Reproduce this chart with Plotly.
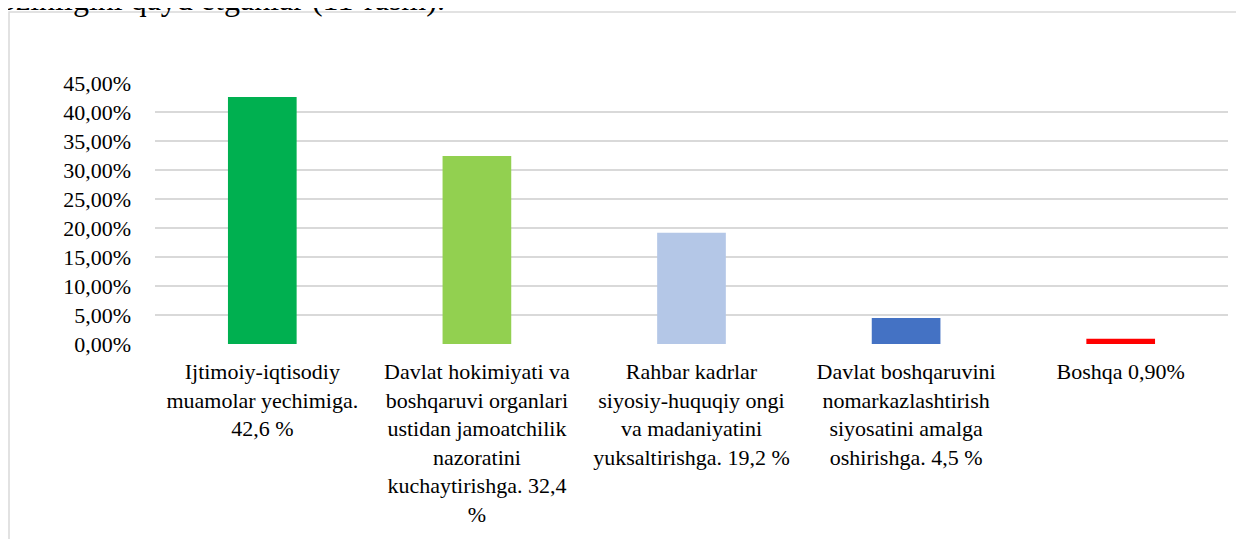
import plotly.graph_objects as go

categories = [
    "Ijtimoiy-iqtisodiy<br>muamolar yechimiga.<br>42,6 %",
    "Davlat hokimiyati va<br>boshqaruvi organlari<br>ustidan jamoatchilik<br>nazoratini<br>kuchaytirishga. 32,4<br>%",
    "Rahbar kadrlar<br>siyosiy-huquqiy ongi<br>va madaniyatini<br>yuksaltirishga. 19,2 %",
    "Davlat boshqaruvini<br>nomarkazlashtirish<br>siyosatini amalga<br>oshirishga. 4,5 %",
    "Boshqa 0,90%",
]
values = [42.6, 32.4, 19.2, 4.5, 0.9]
colors = ["#00B050", "#92D050", "#B4C7E7", "#4472C4", "#FF0000"]
tick_vals = [0, 5, 10, 15, 20, 25, 30, 35, 40, 45]
tick_text = ["0,00%", "5,00%", "10,00%", "15,00%", "20,00%", "25,00%",
             "30,00%", "35,00%", "40,00%", "45,00%"]
top_text = "ozinligini qayd etganlar (11-rasm)."

# page body has an 8px margin; work in figure-internal pixels
W, H = 1236, 531
L, R, T, B = 147, 16, 75, 195
pw = W - L - R
ph = H - T - B

def px(x):
    return (x - L) / pw

def py(y):
    return (H - B - y) / ph

font = "Liberation Serif, Times New Roman, serif"

fig = go.Figure(go.Bar(
    x=list(range(len(values))), y=values, marker_color=colors,
    marker_line_width=0, width=0.32,
))

fig.update_layout(
    width=W, height=H,
    margin=dict(l=L, r=R, t=T, b=B),
    plot_bgcolor="white", paper_bgcolor="white",
    showlegend=False,
    font=dict(family=font, size=22, color="black"),
    xaxis=dict(
        tickmode="array", tickvals=list(range(len(values))), ticktext=categories,
        range=[-0.5, 4.5], showgrid=False, zeroline=False, showline=False,
        ticks="", tickangle=0, tickfont=dict(size=22, family=font),
        ticklabelstandoff=12,
    ),
    yaxis=dict(
        tickmode="array", tickvals=tick_vals, ticktext=tick_text,
        range=[0, 45], showgrid=True, gridcolor="#d9d9d9", gridwidth=1.5,
        zeroline=False, showline=False, ticks="",
        tickfont=dict(size=22, family=font), ticklabelstandoff=23,
    ),
    shapes=[dict(
        type="rect", xref="paper", yref="paper",
        x0=px(1), x1=px(1300), y0=py(600), y1=py(4),
        line=dict(color="#d9d9d9", width=1.5), fillcolor="rgba(0,0,0,0)",
        layer="below",
    )],
    annotations=[dict(
        text=top_text, xref="paper", yref="paper",
        x=px(-10), y=py(-9), xanchor="left", yanchor="middle",
        showarrow=False, font=dict(size=32, family=font, color="black"),
    )],
)

fig.write_html("out.html")
